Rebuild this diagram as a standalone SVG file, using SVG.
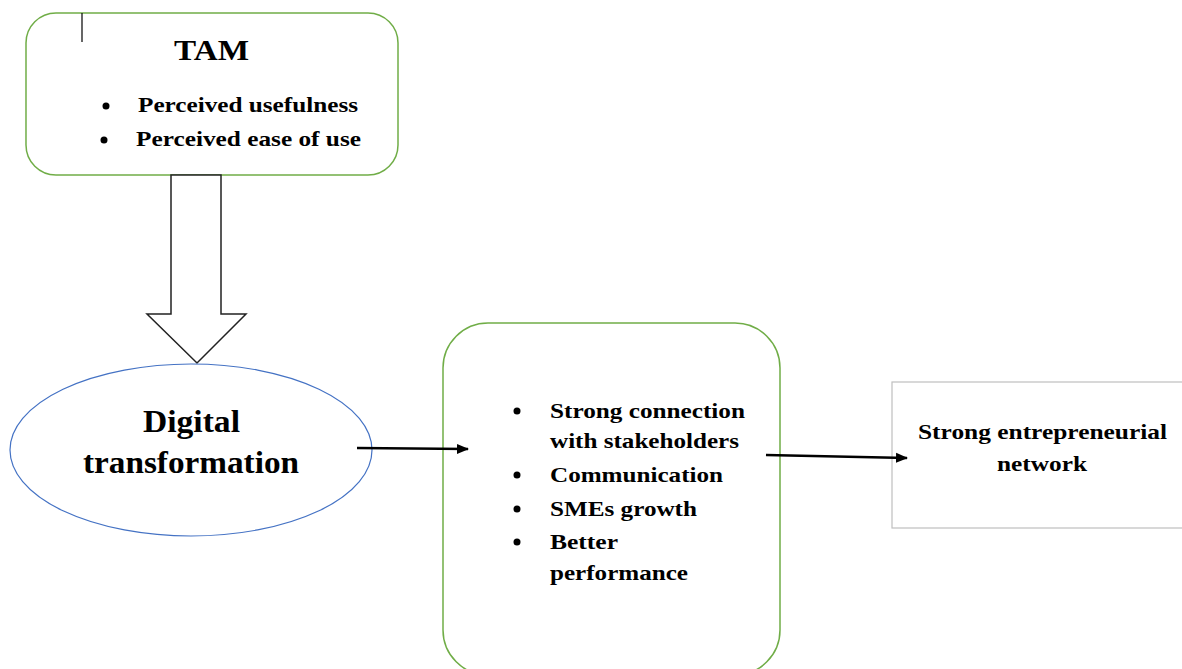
<svg xmlns="http://www.w3.org/2000/svg" width="1182" height="669" viewBox="0 0 1182 669">
<defs>
<style>
.t{font-family:"Liberation Serif","Times New Roman",serif;font-weight:bold;fill:#000}
.green{fill:#fff;stroke:#70ad47;stroke-width:1.5}
.conn{stroke:#000;stroke-width:2.5;fill:none}
</style>
<marker id="ah" markerWidth="12" markerHeight="12" refX="11" refY="6" orient="auto" markerUnits="userSpaceOnUse">
<path d="M0,1 L12,6 L0,11 Z" fill="#000"/>
</marker>
</defs>
<rect width="1182" height="669" fill="#fff"/>
<g id="tam">
<rect class="green" x="26" y="13" width="372" height="162" rx="30"/>
<line x1="82" y1="13" x2="82" y2="42" stroke="#000" stroke-width="1.2"/>
<text class="t" x="174" y="60" font-size="30" textLength="75" lengthAdjust="spacingAndGlyphs">TAM</text>
<circle cx="106" cy="106" r="3.5"/>
<text class="t" x="138" y="112" font-size="22" textLength="220" lengthAdjust="spacingAndGlyphs">Perceived usefulness</text>
<circle cx="104" cy="140" r="3.5"/>
<text class="t" x="136" y="146" font-size="22" textLength="225" lengthAdjust="spacingAndGlyphs">Perceived ease of use</text>
</g>
<g id="block-arrow">
<path d="M171,175 L221,175 L221,314 L246,314 L197,363 L147,314 L171,314 Z" fill="#fff" stroke="#222" stroke-width="1.5"/>
</g>
<g id="digital">
<ellipse cx="191" cy="450" rx="181" ry="86" fill="#fff" stroke="#4472c4" stroke-width="1.2"/>
<text class="t" x="143" y="432" font-size="31" textLength="97" lengthAdjust="spacingAndGlyphs">Digital</text>
<text class="t" x="83" y="473" font-size="31" textLength="216" lengthAdjust="spacingAndGlyphs">transformation</text>
</g>
<g id="outcomes">
<rect class="green" x="443" y="323" width="337" height="352" rx="45"/>
<circle cx="517" cy="411" r="3.5"/>
<text class="t" x="550" y="418" font-size="22" textLength="195" lengthAdjust="spacingAndGlyphs">Strong connection</text>
<text class="t" x="550" y="448" font-size="22" textLength="189" lengthAdjust="spacingAndGlyphs">with stakeholders</text>
<circle cx="517" cy="475" r="3.5"/>
<text class="t" x="550" y="482" font-size="22" textLength="173" lengthAdjust="spacingAndGlyphs">Communication</text>
<circle cx="517" cy="509" r="3.5"/>
<text class="t" x="550" y="516" font-size="22" textLength="147" lengthAdjust="spacingAndGlyphs">SMEs growth</text>
<circle cx="517" cy="542" r="3.5"/>
<text class="t" x="550" y="549" font-size="22" textLength="68" lengthAdjust="spacingAndGlyphs">Better</text>
<text class="t" x="550" y="580" font-size="22" textLength="138" lengthAdjust="spacingAndGlyphs">performance</text>
</g>
<g id="network">
<rect x="892" y="382" width="300" height="146" fill="#fff" stroke="#bfbfbf" stroke-width="1.2"/>
<text class="t" x="918" y="439" font-size="22" textLength="249" lengthAdjust="spacingAndGlyphs">Strong entrepreneurial</text>
<text class="t" x="997" y="471" font-size="22" textLength="90" lengthAdjust="spacingAndGlyphs">network</text>
</g>
<g id="connectors">
<line class="conn" x1="357" y1="448" x2="468" y2="449" marker-end="url(#ah)"/>
<line class="conn" x1="766" y1="455" x2="907" y2="458" marker-end="url(#ah)"/>
</g>
</svg>
